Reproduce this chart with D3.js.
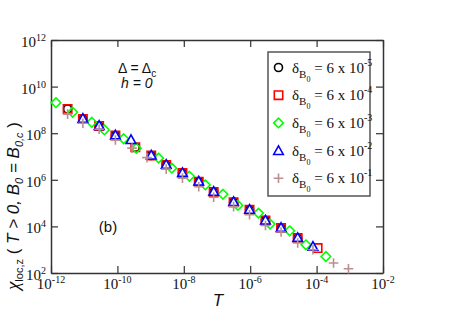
<!DOCTYPE html>
<html>
<head>
<meta charset="utf-8">
<script src="https://cdn.jsdelivr.net/npm/d3@7"></script>
<style>
  body { margin: 0; background: #fff; }
  svg { display: block; }
  .serif { font-family: "Liberation Serif", "Times New Roman", serif; }
  .sans { font-family: "Liberation Sans", Arial, sans-serif; }
</style>
</head>
<body>
<div id="chart"></div>
<script>
// log10 values: [log10 T, log10 chi]
const circlePts = [[-11.50, 9.04], [-11.04, 8.61], [-10.55, 8.31], [-10.06, 7.90], [-9.46, 7.40],
  [-8.98, 7.04], [-8.53, 6.64], [-8.04, 6.29], [-7.55, 5.92], [-7.10, 5.48], [-6.50, 5.04],
  [-6.02, 4.71], [-5.54, 4.25], [-5.07, 3.93], [-4.57, 3.50]];
const squarePts = [[-11.50, 9.04], [-11.04, 8.61], [-10.55, 8.31], [-10.06, 7.90], [-9.46, 7.40],
  [-8.98, 7.04], [-8.53, 6.64], [-8.04, 6.29], [-7.55, 5.92], [-7.10, 5.48], [-6.50, 5.04],
  [-6.02, 4.71], [-5.54, 4.25], [-5.07, 3.93], [-4.57, 3.50], [-3.97, 3.07]];
const diamondPts = [[-11.85, 9.31], [-11.35, 8.90], [-10.77, 8.47], [-10.39, 8.14], [-9.81, 7.76],
  [-9.43, 7.35], [-8.76, 6.93], [-8.36, 6.50], [-7.83, 6.15], [-7.35, 5.78], [-6.82, 5.38],
  [-6.37, 4.90], [-5.75, 4.57], [-5.40, 4.10], [-4.81, 3.81], [-4.32, 3.21], [-3.72, 2.71]];
const trianglePts = [[-11.04, 8.63], [-10.55, 8.33], [-10.06, 7.92], [-9.59, 7.72],
  [-8.98, 7.06], [-8.53, 6.66], [-8.04, 6.31], [-7.55, 5.94], [-7.10, 5.50], [-6.50, 5.06],
  [-6.02, 4.73], [-5.54, 4.27], [-5.07, 3.95], [-4.57, 3.52], [-4.11, 3.14]];
const plusPts = [[-11.50, 8.82], [-11.04, 8.43], [-10.55, 8.17], [-10.06, 7.71], [-9.56, 7.36],
  [-9.11, 6.95], [-8.53, 6.46], [-8.04, 6.07], [-7.55, 5.70], [-7.10, 5.25], [-6.50, 4.85],
  [-6.02, 4.50], [-5.54, 4.04], [-5.07, 3.76], [-4.57, 3.29], [-4.11, 3.00], [-3.49, 2.43],
  [-3.04, 2.18]];

const seriesNames = ['circle', 'square', 'diamond', 'triangle', 'plus'];
const seriesColors = ['#000000', '#ff0000', '#00ff00', '#0000ff', '#bc8f8f'];
const seriesExps = ['-5', '-4', '-3', '-2', '-1'];
const seriesData = [circlePts, squarePts, diamondPts, trianglePts, plusPts];

const xTickExps = [-12, -10, -8, -6, -4, -2];
const yTickExps = [2, 4, 6, 8, 10, 12];

const W = 457, H = 323;
const margin = { top: 40, right: 74, bottom: 50, left: 51 };
const width = W - margin.left - margin.right;
const height = H - margin.top - margin.bottom;

const svg = d3.select('#chart').append('svg')
  .attr('width', W)
  .attr('height', H);

const g = svg.append('g')
  .attr('transform', `translate(${margin.left},${margin.top})`);

const x = d3.scaleLog().domain([1e-12, 1e-2]).range([0, width]);
const y = d3.scaleLog().domain([1e2, 1e12]).range([height, 0]);

const xTicks = xTickExps.map(e => Math.pow(10, e));
const yTicks = yTickExps.map(e => Math.pow(10, e));

// axes: inward ticks on all four sides
const axisColor = '#333';
const tick = 7;
const axes = [
  [d3.axisBottom(x).tickValues(xTicks).tickSizeInner(-tick), `translate(0,${height})`],
  [d3.axisTop(x).tickValues(xTicks).tickSizeInner(-tick), 'translate(0,0)'],
  [d3.axisLeft(y).tickValues(yTicks).tickSizeInner(-tick), 'translate(0,0)'],
  [d3.axisRight(y).tickValues(yTicks).tickSizeInner(-tick), `translate(${width},0)`]
];
axes.forEach(([ax, tr]) => {
  const a = g.append('g')
    .attr('transform', tr)
    .call(ax.tickSizeOuter(0).tickFormat(''));
  a.select('.domain').attr('stroke', axisColor).attr('stroke-width', 1.5);
  a.selectAll('.tick line').attr('stroke', axisColor).attr('stroke-width', 1.2);
});

// tick labels 10^n
xTickExps.forEach(e => {
  const t = g.append('text')
    .attr('class', 'serif')
    .attr('x', x(Math.pow(10, e)))
    .attr('y', height + 16)
    .attr('text-anchor', 'middle')
    .style('font-size', '15px')
    .style('fill', '#111');
  t.append('tspan').text('10');
  t.append('tspan').attr('dy', -6).style('font-size', '10px').text(e);
});
yTickExps.forEach(e => {
  const t = g.append('text')
    .attr('class', 'serif')
    .attr('x', -5)
    .attr('y', y(Math.pow(10, e)) + 7)
    .attr('text-anchor', 'end')
    .style('font-size', '15px')
    .style('fill', '#111');
  t.append('tspan').text('10');
  t.append('tspan').attr('dy', -6).style('font-size', '10px').text(e);
});

// marker shapes
const markerPath = (type, r) => {
  const p = d3.path();
  if (type === 'square') {
    p.rect(-r, -r, 2 * r, 2 * r);
  } else if (type === 'diamond') {
    p.moveTo(0, -r); p.lineTo(r, 0); p.lineTo(0, r); p.lineTo(-r, 0); p.closePath();
  } else if (type === 'triangle') {
    p.moveTo(0, -r); p.lineTo(r, r * 0.8); p.lineTo(-r, r * 0.8); p.closePath();
  } else if (type === 'plus') {
    p.moveTo(-r, 0); p.lineTo(r, 0); p.moveTo(0, -r); p.lineTo(0, r);
  } else {
    p.arc(0, 0, r, 0, 2 * Math.PI);
  }
  return p.toString();
};
const markerSize = { circle: 4, square: 4.2, diamond: 4.8, triangle: 4.8, plus: 4.8 };

const plot = g.append('g');
seriesNames.forEach((name, i) => {
  plot.selectAll(`path.${name}`)
    .data(seriesData[i])
    .join('path')
    .attr('class', name)
    .attr('transform', d => `translate(${x(Math.pow(10, d[0]))},${y(Math.pow(10, d[1]))})`)
    .attr('d', markerPath(name, markerSize[name]))
    .attr('fill', name === 'triangle' ? '#fff' : 'none')
    .attr('stroke', seriesColors[i])
    .attr('stroke-width', 1.6);
});

// legend
const legend = svg.append('g').attr('transform', 'translate(268,52)');
legend.append('rect')
  .attr('width', 102)
  .attr('height', 144)
  .attr('fill', '#fff')
  .attr('stroke', '#555')
  .attr('stroke-width', 1.5);
seriesNames.forEach((name, i) => {
  const ly = 15.5 + i * 27.7;
  legend.append('path')
    .attr('transform', `translate(10.5,${ly})`)
    .attr('d', markerPath(name, markerSize[name]))
    .attr('fill', 'none')
    .attr('stroke', seriesColors[i])
    .attr('stroke-width', 1.6);
  const t = legend.append('text')
    .attr('class', 'serif')
    .attr('x', 24)
    .attr('y', ly + 5)
    .style('font-size', '15px')
    .style('fill', '#111');
  t.append('tspan').text('δ');
  t.append('tspan').attr('dy', 5).style('font-size', '11px').text('B');
  t.append('tspan').attr('dy', 4).style('font-size', '8px').text('0');
  t.append('tspan').attr('dy', -9).text(' = 6 x 10');
  t.append('tspan').attr('dy', -7).style('font-size', '10px').text(seriesExps[i]);
});

// annotations
const ann = svg.append('g').attr('class', 'sans').style('fill', '#111');
const d1 = ann.append('text').attr('x', 118).attr('y', 73).style('font-size', '14px');
d1.append('tspan').text('Δ = Δ');
d1.append('tspan').attr('dy', 4).style('font-size', '10px').text('c');
ann.append('text').attr('x', 121).attr('y', 88).style('font-size', '14px')
  .style('font-style', 'italic').text('h = 0');
ann.append('text').attr('x', 108).attr('y', 232).attr('text-anchor', 'middle')
  .style('font-size', '15px').text('(b)');

// axis titles
svg.append('text')
  .attr('class', 'sans')
  .attr('x', margin.left + width / 2 + 1)
  .attr('y', 306)
  .attr('text-anchor', 'middle')
  .style('font-size', '17px')
  .style('font-style', 'italic')
  .style('fill', '#111')
  .text('T');

const yl = svg.append('text')
  .attr('class', 'sans')
  .attr('transform', 'translate(19,290) rotate(-90)')
  .attr('text-anchor', 'start')
  .style('font-size', '17px')
  .style('fill', '#111');
yl.append('tspan').attr('class', 'serif').style('font-style', 'italic').style('font-size', '19px').text('χ');
yl.append('tspan').attr('dy', 4).style('font-size', '11px').text('loc,z');
yl.append('tspan').attr('dy', -4).text(' ( ');
yl.append('tspan').style('font-style', 'italic').text('T > 0,  B');
yl.append('tspan').attr('dy', 4).style('font-size', '11px').style('font-style', 'italic').text('0');
yl.append('tspan').attr('dy', -4).style('font-style', 'italic').text(' = B');
yl.append('tspan').attr('dy', 4).style('font-size', '11px').style('font-style', 'italic').text('0,c');
yl.append('tspan').attr('dy', -4).text(' )');
</script>
</body>
</html>
